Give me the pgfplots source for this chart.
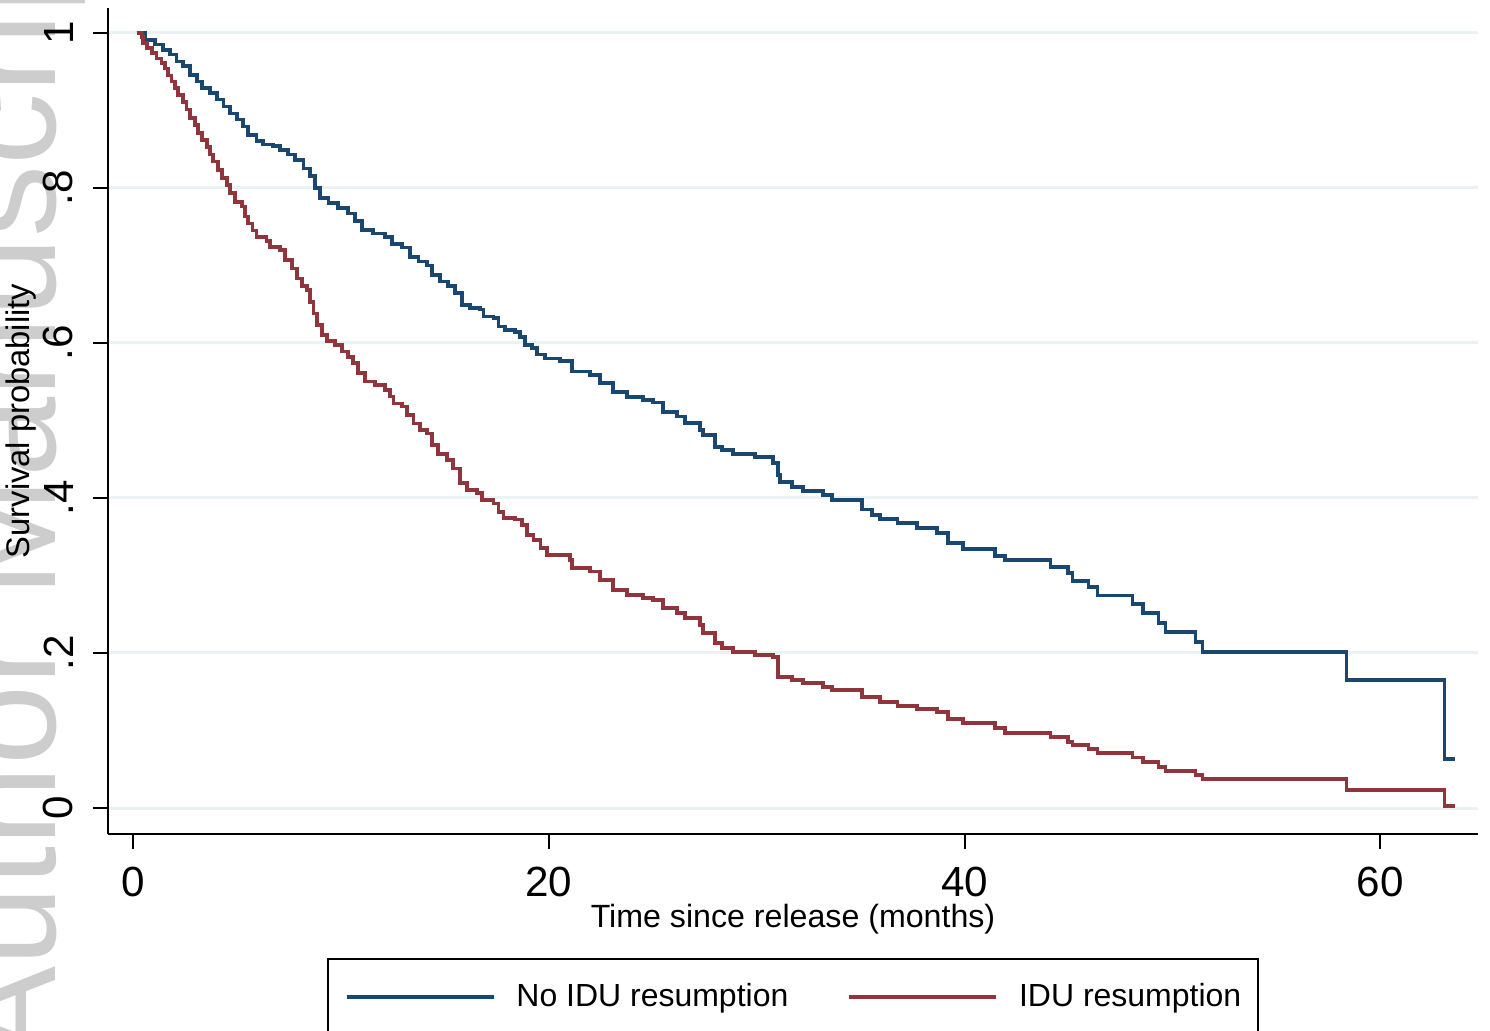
\documentclass[border=0pt]{standalone}
\usepackage{fontspec}
\setmainfont{Liberation Sans}
\usepackage{pgfplots}
\pgfplotsset{compat=1.18}
\definecolor{kmblue}{HTML}{1A476F}
\definecolor{kmred}{HTML}{90353B}
\definecolor{gridc}{HTML}{EAF2F3}
\definecolor{wmark}{HTML}{CDCDCD}

\pgfplotstableread{
x y
0.18 1.000
0.58 0.991
1.06 0.985
1.46 0.978
1.78 0.972
2.10 0.963
2.42 0.957
2.74 0.946
3.07 0.937
3.31 0.929
3.71 0.922
4.03 0.914
4.35 0.905
4.67 0.896
4.99 0.888
5.31 0.879
5.55 0.868
5.95 0.860
6.27 0.856
6.75 0.854
7.07 0.849
7.47 0.843
7.80 0.836
8.20 0.825
8.52 0.815
8.76 0.800
9.00 0.787
9.40 0.780
9.88 0.774
10.36 0.767
10.68 0.757
11.01 0.746
11.56 0.741
12.13 0.737
12.45 0.728
12.93 0.723
13.33 0.711
13.73 0.705
14.13 0.700
14.37 0.688
14.77 0.679
15.17 0.673
15.50 0.664
15.82 0.649
16.22 0.645
16.70 0.643
16.86 0.634
17.34 0.632
17.58 0.621
17.90 0.617
18.38 0.614
18.62 0.608
18.86 0.597
19.19 0.593
19.43 0.585
19.83 0.580
20.55 0.577
21.13 0.563
21.99 0.559
22.47 0.548
23.10 0.537
23.77 0.530
24.54 0.526
25.02 0.523
25.50 0.511
26.18 0.505
26.56 0.497
27.29 0.488
27.43 0.481
28.00 0.466
28.35 0.462
28.87 0.457
29.93 0.453
30.80 0.445
31.04 0.430
31.14 0.421
31.71 0.414
32.24 0.409
33.20 0.404
33.64 0.397
35.08 0.385
35.56 0.378
35.95 0.373
36.77 0.368
37.73 0.361
38.69 0.355
39.22 0.342
39.94 0.334
41.48 0.325
41.96 0.320
44.13 0.311
44.99 0.303
45.19 0.293
45.96 0.285
46.39 0.274
48.08 0.263
48.60 0.252
49.33 0.239
49.66 0.227
51.11 0.214
51.44 0.201
58.37 0.165
63.09 0.063
63.57 0.063
}\noidu

\pgfplotstableread{
x y
0.18 1.000
0.42 0.995
0.47 0.987
0.66 0.980
0.90 0.974
1.14 0.967
1.38 0.961
1.54 0.954
1.70 0.945
1.86 0.937
2.02 0.929
2.18 0.920
2.42 0.911
2.58 0.901
2.74 0.890
2.98 0.881
3.14 0.871
3.31 0.862
3.55 0.853
3.71 0.843
3.86 0.834
4.10 0.823
4.27 0.813
4.51 0.804
4.67 0.793
4.91 0.782
5.23 0.776
5.39 0.763
5.55 0.754
5.75 0.745
5.95 0.737
6.43 0.731
6.59 0.724
7.07 0.720
7.31 0.707
7.64 0.696
7.88 0.683
8.12 0.673
8.36 0.668
8.52 0.653
8.68 0.638
8.84 0.623
9.08 0.610
9.32 0.602
9.72 0.597
10.04 0.589
10.36 0.582
10.60 0.574
10.84 0.561
11.16 0.550
11.65 0.546
12.13 0.539
12.37 0.531
12.53 0.522
12.93 0.518
13.17 0.507
13.49 0.496
13.81 0.488
14.13 0.483
14.37 0.468
14.69 0.457
15.10 0.449
15.41 0.438
15.74 0.419
16.06 0.410
16.54 0.406
16.78 0.397
17.34 0.393
17.58 0.382
17.82 0.374
18.38 0.372
18.70 0.365
18.95 0.352
19.27 0.346
19.60 0.335
19.92 0.326
21.03 0.320
21.13 0.310
21.99 0.305
22.47 0.294
23.10 0.281
23.77 0.275
24.54 0.271
25.02 0.268
25.50 0.258
26.18 0.252
26.56 0.245
27.29 0.236
27.43 0.226
28.00 0.213
28.35 0.206
28.87 0.201
29.93 0.197
30.80 0.195
31.04 0.169
31.71 0.165
32.24 0.161
33.20 0.156
33.64 0.152
35.08 0.143
35.95 0.137
36.77 0.132
37.73 0.128
38.69 0.124
39.22 0.115
39.94 0.110
41.48 0.103
41.96 0.097
44.13 0.092
44.99 0.085
45.19 0.081
45.96 0.076
46.39 0.071
48.08 0.065
48.60 0.059
49.33 0.053
49.66 0.048
51.11 0.043
51.44 0.037
58.37 0.023
63.09 0.003
63.57 0.003
}\idu

\begin{document}
\begin{tikzpicture}
% faded watermark at the left edge
\node[rotate=90,anchor=base west,inner sep=0pt,text=wmark,
  font=\fontsize{41}{41}\selectfont] at (-5.2mm,-22.9mm) {Author Manuscript};
\begin{axis}[
  scale only axis,width=137mm,height=82.6mm,
  xmin=-1.2,xmax=64.7,ymin=-0.0335,ymax=1.032,
  axis lines*=left,
  axis line style={line width=0.2mm,black},
  tick align=outside,major tick length=1.5mm,
  tick style={line width=0.2mm,black},
  xtick={0,20,40,60},
  ytick={0,0.2,0.4,0.6,0.8,1},
  yticklabels={0,.2,.4,.6,.8,1},
  /pgf/number format/assume math mode=true,
  ticklabel style={font=\fontsize{12}{14}\selectfont},
  xticklabel style={inner sep=0pt,yshift=-1.7mm},
  yticklabel style={xshift=-1.9mm,rotate=90,anchor=south,inner sep=0pt},
  ymajorgrids,grid style={gridc,line width=0.3mm},
  xlabel={Time since release (months)},
  ylabel={Survival probability},
  every axis x label/.style={at={(rel axis cs:0.5,0)},anchor=north,
    inner sep=0pt,yshift=-6.9mm,font=\fontsize{9.15}{11}\selectfont},
  every axis y label/.style={at={(rel axis cs:0,0.5)},xshift=-7.1mm,
    rotate=90,anchor=south,inner sep=0pt,font=\fontsize{9.3}{11}\selectfont},
  legend columns=2,
  legend style={at={(rel axis cs:0.5,0)},anchor=north,yshift=-12.4mm,
    draw=black,line width=0.2mm,inner xsep=1.7mm,inner ysep=2.4mm,
    font=\fontsize{9.1}{11}\selectfont,
    nodes={inner sep=0pt,anchor=west},
    /tikz/every odd column/.style={column sep=2.1mm},
    /tikz/every even column/.style={column sep=5.9mm}},
  legend image code/.code={\draw[#1] (0mm,0mm) -- (14.7mm,0mm);},
]
\addplot[const plot,kmblue,line width=0.37mm] table[x=x,y=y] {\noidu};
\addplot[const plot,kmred,line width=0.37mm] table[x=x,y=y] {\idu};
\legend{No IDU resumption,IDU resumption}
\end{axis}
\pgfresetboundingbox
\path[use as bounding box] (-10.8mm,-19.7mm) rectangle (138.2mm,83.4mm);
\end{tikzpicture}
\end{document}
